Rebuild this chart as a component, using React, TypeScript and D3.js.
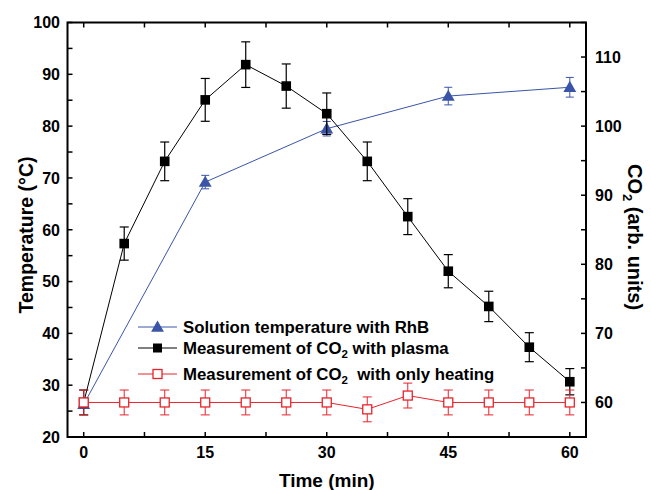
import React from "react";
import * as d3 from "d3";

const times = [0, 5, 10, 15, 20, 25, 30, 35, 40, 45, 50, 55, 60];
const plasmaCO2 = [60, 83, 94.9, 103.8, 108.9, 105.8, 101.8, 94.9, 86.9, 79.0, 73.9, 68.0, 63.0];
const plasmaErr = [1.8, 2.4, 2.8, 3.1, 3.3, 3.2, 3.0, 2.8, 2.6, 2.4, 2.2, 2.1, 1.9];
const heatCO2 = [60, 60, 60, 60, 60, 60, 60, 59.0, 61.0, 60, 60, 60, 60];
const heatErr = [1.8, 1.8, 1.8, 1.8, 1.8, 1.8, 1.8, 1.8, 1.8, 1.8, 1.8, 1.8, 1.8];
const tempTimes = [0, 15, 30, 45, 60];
const tempVals = [26.3, 69.2, 79.5, 85.8, 87.5];
const tempErr = [0.5, 1.3, 1.4, 1.7, 1.9];

const xTicks = [0, 15, 30, 45, 60];
const xMinor = [7.5, 22.5, 37.5, 52.5];
const leftTicks = [20, 30, 40, 50, 60, 70, 80, 90, 100];
const leftMinor = [25, 35, 45, 55, 65, 75, 85, 95];
const rightTicks = [60, 70, 80, 90, 100, 110];
const rightMinor = [55, 65, 75, 85, 95, 105, 115];

const BLUE = "#3a55a8";
const RED = "#e8232b";
const FONT = "'Liberation Sans', Arial, sans-serif";

export default function App() {
  const L = 67.5, R = 586, T = 22.5, B = 437;
  const x = d3.scaleLinear().domain([-2, 62]).range([L, R]);
  const yL = d3.scaleLinear().domain([20, 100]).range([B, T]);
  const yR = d3.scaleLinear().domain([55, 115]).range([B, T]);
  const lineL = d3.line<number>().x((_, i) => x(tempTimes[i])).y((d) => yL(d));
  const lineR = d3.line<number>().x((_, i) => x(times[i])).y((d) => yR(d));
  const tri = d3.symbol(d3.symbolTriangle, 72)();
  const tk = 5;

  const errBars = (xs: number[], vs: number[], es: number[], y: any, color: string, cap: number, w: number) =>
    vs.map((v, i) => {
      const cx = x(xs[i]);
      const y1 = y(v + es[i]);
      const y2 = y(v - es[i]);
      return (
        <g key={i} stroke={color} strokeWidth={w}>
          <line x1={cx} x2={cx} y1={y1} y2={y2} />
          <line x1={cx - cap} x2={cx + cap} y1={y1} y2={y1} />
          <line x1={cx - cap} x2={cx + cap} y1={y2} y2={y2} />
        </g>
      );
    });

  return (
    <svg width={651} height={490} style={{ position: "absolute", left: 0, top: 0 }} fontFamily={FONT}>
      <rect width={651} height={490} fill="#fff" />
      {/* temperature series */}
      <path d={lineL(tempVals) || ""} fill="none" stroke={BLUE} strokeWidth={1} />
      {errBars(tempTimes, tempVals, tempErr, yL, BLUE, 4, 1)}
      {tempVals.map((v, i) => (
        <path key={i} d={tri || ""} transform={`translate(${x(tempTimes[i])},${yL(v) + 1})`} fill={BLUE} />
      ))}
      {/* plasma series */}
      <path d={lineR(plasmaCO2) || ""} fill="none" stroke="#000" strokeWidth={1} />
      {errBars(times, plasmaCO2, plasmaErr, yR, "#000", 4.5, 1.2)}
      {plasmaCO2.map((v, i) => (
        <rect key={i} x={x(times[i]) - 4.8} y={yR(v) - 4.8} width={9.6} height={9.6} fill="#000" />
      ))}
      {/* heating series */}
      <path d={lineR(heatCO2) || ""} fill="none" stroke={RED} strokeWidth={1} />
      {errBars(times, heatCO2, heatErr, yR, RED, 4.5, 1)}
      {heatCO2.map((v, i) => (
        <rect key={i} x={x(times[i]) - 4.5} y={yR(v) - 4.5} width={9} height={9} fill="#fff" stroke={RED} strokeWidth={1.3} />
      ))}

      {/* frame */}
      <rect x={L} y={T} width={R - L} height={B - T} fill="none" stroke="#000" strokeWidth={2} />
      <g stroke="#000" strokeWidth={1.5}>
        {[...xTicks, ...xMinor].map((t) => (
          <g key={"x" + t}>
            <line x1={x(t)} x2={x(t)} y1={B} y2={B - tk} />
            <line x1={x(t)} x2={x(t)} y1={T} y2={T + tk} />
          </g>
        ))}
        {[...leftTicks, ...leftMinor].map((t) => (
          <line key={"l" + t} x1={L} x2={L + tk} y1={yL(t)} y2={yL(t)} />
        ))}
        {[...rightTicks, ...rightMinor].map((t) => (
          <line key={"r" + t} x1={R} x2={R - tk} y1={yR(t)} y2={yR(t)} />
        ))}
      </g>
      <g fontSize={16} fontWeight="bold" fill="#000">
        {xTicks.map((t) => (
          <text key={t} x={x(t)} y={458} textAnchor="middle">{t}</text>
        ))}
        {leftTicks.map((t) => (
          <text key={t} x={60} y={yL(t) + 5.8} textAnchor="end">{t}</text>
        ))}
        {rightTicks.map((t) => (
          <text key={t} x={595} y={yR(t) + 5.8} textAnchor="start">{t}</text>
        ))}
      </g>
      {/* axis titles */}
      <text x={(L + R) / 2} y={487} textAnchor="middle" fontSize={19} fontWeight="bold">Time (min)</text>
      <text transform={`translate(33,235) rotate(-90)`} textAnchor="middle" fontSize={19.5} fontWeight="bold">Temperature (°C)</text>
      <text transform={`translate(628,237) rotate(90)`} textAnchor="middle" fontSize={20} fontWeight="bold">
        CO<tspan fontSize={13} dy={5}>2</tspan><tspan dy={-5}> (arb. units)</tspan>
      </text>

      {/* legend */}
      <g fontSize={16.8} fontWeight="bold">
        <line x1={138} x2={177} y1={327} y2={327} stroke={BLUE} strokeWidth={1} />
        <path d={tri || ""} transform={`translate(157.5,328)`} fill={BLUE} />
        <text x={183} y={333}>Solution temperature with RhB</text>

        <line x1={138} x2={177} y1={348} y2={348} stroke="#000" strokeWidth={1} />
        <rect x={153} y={343.5} width={9} height={9} fill="#000" />
        <text x={183} y={354}>Measurement of CO<tspan fontSize={11.5} dy={4}>2</tspan><tspan dy={-4}> with plasma</tspan></text>

        <line x1={138} x2={177} y1={374} y2={374} stroke={RED} strokeWidth={1} />
        <rect x={153} y={369.5} width={9} height={9} fill="#fff" stroke={RED} strokeWidth={1.3} />
        <text x={183} y={380}>Measurement of CO<tspan fontSize={11.5} dy={4}>2</tspan><tspan dy={-4}>{"\u00a0 with only heating"}</tspan></text>
      </g>
    </svg>
  );
}
